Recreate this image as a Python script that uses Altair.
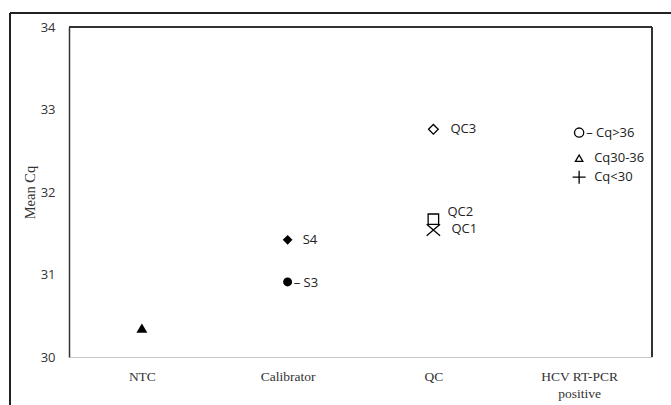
import altair as alt
import pandas as pd

# Mean Cq per sample group
categories = ["NTC", "Calibrator", "QC", "HCV RT-PCR positive"]
groups = ["NTC", "Calibrator", "Calibrator", "QC", "QC", "QC",
          "HCV RT-PCR positive", "HCV RT-PCR positive", "HCV RT-PCR positive"]
samples = ["NTC", "S4", "S3", "QC3", "QC2", "QC1", "Cq>36", "Cq30-36", "Cq<30"]
mean_cq = [30.35, 31.42, 30.91, 32.76, 31.67, 31.54, 32.72, 32.41, 32.18]

# marker look per sample: (shape, filled, size)
X_PATH = "M-1,-0.85L1,0.85M-1,0.85L1,-0.85"
PLUS_PATH = "M-1,0L1,0M0,-1L0,1"
marker_style = {
    "NTC": ("triangle-up", True, 120),
    "S4": ("diamond", True, 95),
    "S3": ("circle", True, 80),
    "QC3": ("diamond", False, 95),
    "QC2": ("square", False, 110),
    "QC1": (X_PATH, False, 180),
    "Cq>36": ("circle", False, 85),
    "Cq30-36": ("triangle-up", False, 55),
    "Cq<30": (PLUS_PATH, False, 170),
}
# label placement next to each marker: (dx, dy, leader dash)
label_style = {
    "S4": (15, 0, False),
    "S3": (6, 1, True),
    "QC3": (17, 0, False),
    "QC2": (14, -7, False),
    "QC1": (18, -1, False),
    "Cq>36": (7, 0, True),
    "Cq30-36": (15, 0, False),
    "Cq<30": (15, 0, False),
}

df = pd.DataFrame({"group": groups, "sample": samples, "cq": mean_cq})
df["shape"] = [marker_style[s][0] for s in samples]
df["filled"] = [marker_style[s][1] for s in samples]
df["size"] = [marker_style[s][2] for s in samples]

W, H = 583, 330
SANS = "Open Sans"
SERIF = "Liberation Serif"

x_enc = alt.X(
    "group:N",
    sort=categories,
    scale=alt.Scale(domain=categories, paddingInner=0, paddingOuter=0),
    axis=alt.Axis(
        title=None, labelAngle=0, ticks=False, labelPadding=12,
        labelFont=SERIF, labelFontSize=13.5, labelFontWeight="normal",
        labelColor="#333",
        domainColor="#c8c8c8", domainWidth=1.2, grid=False,
        labelExpr="datum.label == 'HCV RT-PCR positive' ? ['HCV RT-PCR', 'positive'] : datum.label",
        labelLineHeight=17,
    ),
)
y_enc = alt.Y(
    "cq:Q",
    scale=alt.Scale(domain=[30, 34], nice=False, zero=False),
    axis=alt.Axis(
        title="Mean Cq", values=[30, 31, 32, 33, 34], ticks=False,
        labelPadding=14, labelFont=SANS, labelFontSize=13, labelColor="#333",
        domainColor="#333", domainWidth=1.5, grid=False,
        titleFont=SERIF, titleFontSize=14.5, titleFontWeight="normal",
        titleColor="#333", titlePadding=3,
    ),
)

base = alt.Chart(df).encode(x=x_enc, y=y_enc)

filled_pts = base.transform_filter("datum.filled").mark_point(
    filled=True, color="black", opacity=1
).encode(shape=alt.Shape("shape:N", scale=None), size=alt.Size("size:Q", scale=None))

open_pts = base.transform_filter("!datum.filled").mark_point(
    filled=False, color="black", strokeWidth=1.3, opacity=1
).encode(shape=alt.Shape("shape:N", scale=None), size=alt.Size("size:Q", scale=None))

label_layers = []
for name, (dx, dy, leader) in label_style.items():
    txt = ("\u2013 " + name) if leader else name
    label_layers.append(
        base.transform_filter(alt.datum.sample == name).mark_text(
            align="left", baseline="middle", dx=dx, dy=dy,
            font=SANS, fontSize=13, color="#222", text=txt,
        )
    )

# inner frame: top and right edges of the plot box
frame_top = alt.Chart(df).mark_rule(color="#333", strokeWidth=1.5).encode(
    x=alt.value(0), x2=alt.value(W), y=alt.value(0)
)
frame_right = alt.Chart(df).mark_rule(color="#333", strokeWidth=1.5).encode(
    x=alt.value(W), y=alt.value(0), y2=alt.value(H)
)
# outer figure border
outer_top = alt.Chart(df).mark_rule(color="#222", strokeWidth=1.5).encode(
    x=alt.value(-59), x2=alt.value(700), y=alt.value(-14)
)
outer_left = alt.Chart(df).mark_rule(color="#222", strokeWidth=1.5).encode(
    x=alt.value(-59), y=alt.value(-14), y2=alt.value(420)
)

chart = alt.layer(
    frame_top, frame_right, outer_top, outer_left,
    filled_pts, open_pts, *label_layers
).properties(
    width=W, height=H,
    autosize=alt.AutoSizeParams(type="none"),
    padding={"left": 69, "top": 27, "right": 19, "bottom": 48},
    background="white",
).configure_view(stroke=None)

chart.save("out.html", embed_options={"renderer": "svg", "actions": False})
